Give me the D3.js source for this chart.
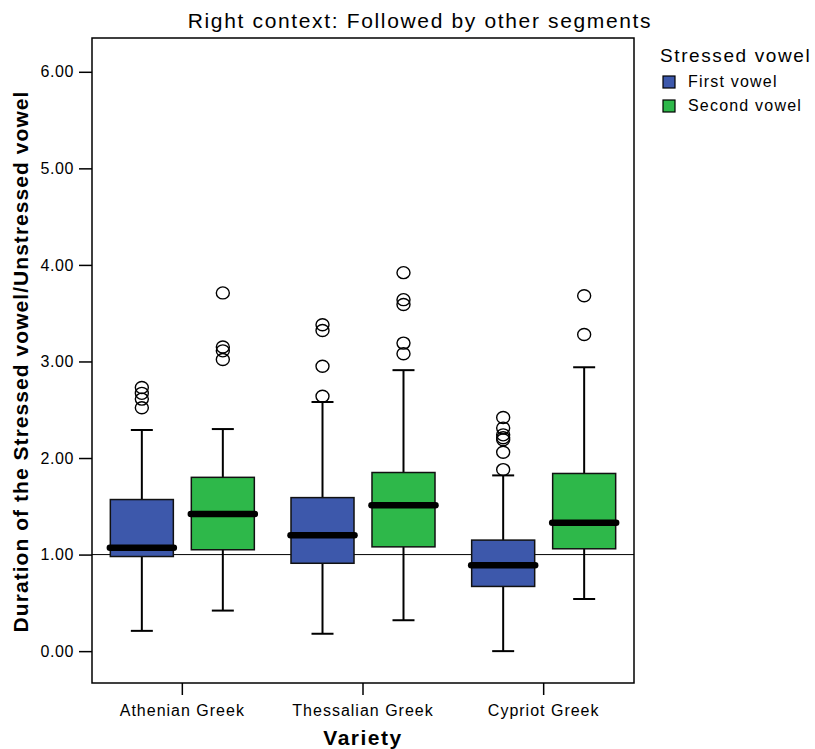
<!DOCTYPE html>
<html>
<head>
<meta charset="utf-8">
<script src="https://cdn.jsdelivr.net/npm/d3@7"></script>
<style>
  body { margin: 0; background: #fff; }
  text { font-family: "Liberation Sans", Arial, sans-serif; fill: #000; }
</style>
</head>
<body>
<div id="chart"></div>
<script>
// categories and groups
const varieties = ["Athenian Greek", "Thessalian Greek", "Cypriot Greek"];
const groups = ["First vowel", "Second vowel"];
const yTicks = [0, 1, 2, 3, 4, 5, 6];

// box stats per variety, order = groups
const whiskerLow = [[0.21, 0.42], [0.18, 0.32], [0.00, 0.54]];
const q1 = [[0.98, 1.05], [0.91, 1.08], [0.67, 1.06]];
const median = [[1.07, 1.42], [1.20, 1.51], [0.89, 1.33]];
const q3 = [[1.57, 1.80], [1.59, 1.85], [1.15, 1.84]];
const whiskerHigh = [[2.29, 2.30], [2.58, 2.91], [1.82, 2.94]];
const outliers = [
  [[2.73, 2.67, 2.61, 2.52], [3.71, 3.15, 3.11, 3.02]],
  [[3.38, 3.32, 2.95, 2.64], [3.92, 3.64, 3.59, 3.19, 3.08]],
  [[2.42, 2.31, 2.24, 2.21, 2.19, 2.06, 1.88], [3.68, 3.28]]
];

let width = 815;
let height = 749;
let margin = { left: 92, top: 38, right: 181, bottom: 66 };
let colors = ["#3d58ab", "#2eb84a"];

let svg = d3.select("#chart").append("svg")
  .attr("width", width)
  .attr("height", height);

let x0 = d3.scaleBand()
  .domain(varieties)
  .range([margin.left, width - margin.right]);

let bw = x0.bandwidth();
let x1 = d3.scaleBand()
  .domain(groups)
  .range([bw / 2 - 72, bw / 2 + 72])
  .paddingInner(0.222);

let y = d3.scaleLinear()
  .domain([-0.33, 6.35])
  .range([height - margin.bottom, margin.top]);

// frame
svg.append("rect")
  .attr("x", margin.left)
  .attr("y", margin.top)
  .attr("width", width - margin.left - margin.right)
  .attr("height", height - margin.top - margin.bottom)
  .attr("fill", "none")
  .attr("stroke", "#000")
  .attr("stroke-width", 1.5);

// axes
let yAxis = svg.append("g")
  .attr("transform", `translate(${margin.left},0)`)
  .call(d3.axisLeft(y).tickValues(yTicks).tickFormat(d3.format(".2f")).tickSize(13).tickPadding(5));
yAxis.select(".domain").remove();
yAxis.selectAll("line").attr("stroke-width", 1.5);
yAxis.selectAll("text")
  .style("font-size", "16px")
  .style("letter-spacing", "0.6px")
  .style("font-family", "Liberation Sans, Arial, sans-serif");

let xAxis = svg.append("g")
  .attr("transform", `translate(0,${height - margin.bottom})`)
  .call(d3.axisBottom(x0).tickSize(12).tickPadding(10));
xAxis.select(".domain").remove();
xAxis.selectAll("line").attr("stroke-width", 1.5);
xAxis.selectAll("text")
  .style("font-size", "16px")
  .style("letter-spacing", "1px")
  .style("font-family", "Liberation Sans, Arial, sans-serif");

// reference line at 1.00
svg.append("line")
  .attr("x1", margin.left)
  .attr("x2", width - margin.right)
  .attr("y1", y(1))
  .attr("y2", y(1))
  .attr("stroke", "#000")
  .attr("stroke-width", 1);

// boxes
varieties.forEach((v, i) => {
  groups.forEach((gname, j) => {
    let bx = x0(v) + x1(gname);
    let w = x1.bandwidth();
    let cx = bx + w / 2;
    let g = svg.append("g");

    g.append("line")
      .attr("x1", cx).attr("x2", cx)
      .attr("y1", y(whiskerLow[i][j])).attr("y2", y(q1[i][j]))
      .attr("stroke", "#000").attr("stroke-width", 2);
    g.append("line")
      .attr("x1", cx).attr("x2", cx)
      .attr("y1", y(q3[i][j])).attr("y2", y(whiskerHigh[i][j]))
      .attr("stroke", "#000").attr("stroke-width", 2);
    [whiskerLow[i][j], whiskerHigh[i][j]].forEach(val => {
      g.append("line")
        .attr("x1", cx - 11).attr("x2", cx + 11)
        .attr("y1", y(val)).attr("y2", y(val))
        .attr("stroke", "#000").attr("stroke-width", 2);
    });

    g.append("rect")
      .attr("x", bx)
      .attr("y", y(q3[i][j]))
      .attr("width", w)
      .attr("height", y(q1[i][j]) - y(q3[i][j]))
      .attr("fill", colors[j])
      .attr("stroke", "#111")
      .attr("stroke-width", 1.5);

    g.append("line")
      .attr("x1", bx - 0.5).attr("x2", bx + w + 0.5)
      .attr("y1", y(median[i][j])).attr("y2", y(median[i][j]))
      .attr("stroke", "#000").attr("stroke-width", 6.5)
      .attr("stroke-linecap", "round");

    g.selectAll("ellipse")
      .data(outliers[i][j])
      .enter().append("ellipse")
      .attr("cx", cx)
      .attr("cy", d => y(d))
      .attr("rx", 6.5)
      .attr("ry", 6)
      .attr("fill", "#fff")
      .attr("fill-opacity", 0)
      .attr("stroke", "#000")
      .attr("stroke-width", 1.4);
  });
});

// titles
svg.append("text")
  .attr("x", 420)
  .attr("y", 28)
  .attr("text-anchor", "middle")
  .style("font-size", "21px")
  .style("letter-spacing", "1.65px")
  .text("Right context: Followed by other segments");

svg.append("text")
  .attr("transform", `translate(28,${(margin.top + height - margin.bottom) / 2 + 1}) rotate(-90)`)
  .attr("text-anchor", "middle")
  .style("font-size", "21px")
  .style("font-weight", "bold")
  .style("letter-spacing", "1.05px")
  .text("Duration of the Stressed vowel/Unstressed vowel");

svg.append("text")
  .attr("x", (margin.left + width - margin.right) / 2)
  .attr("y", 745)
  .attr("text-anchor", "middle")
  .style("font-size", "21px")
  .style("font-weight", "bold")
  .style("letter-spacing", "1.5px")
  .text("Variety");

// legend
let legend = svg.append("g").attr("transform", "translate(660,0)");
legend.append("text")
  .attr("x", 0)
  .attr("y", 62)
  .style("font-size", "19px")
  .style("letter-spacing", "1.6px")
  .text("Stressed vowel");

let keys = legend.selectAll(".key")
  .data(groups)
  .enter().append("g")
  .attr("class", "key")
  .attr("transform", (d, i) => `translate(3,${76 + i * 24})`);
keys.append("rect")
  .attr("width", 12)
  .attr("height", 12)
  .attr("fill", (d, i) => colors[i])
  .attr("stroke", "#000")
  .attr("stroke-width", 1.2);
keys.append("text")
  .attr("x", 25)
  .attr("y", 11)
  .style("font-size", "16px")
  .style("letter-spacing", "1.2px")
  .text(d => d);
</script>
</body>
</html>
